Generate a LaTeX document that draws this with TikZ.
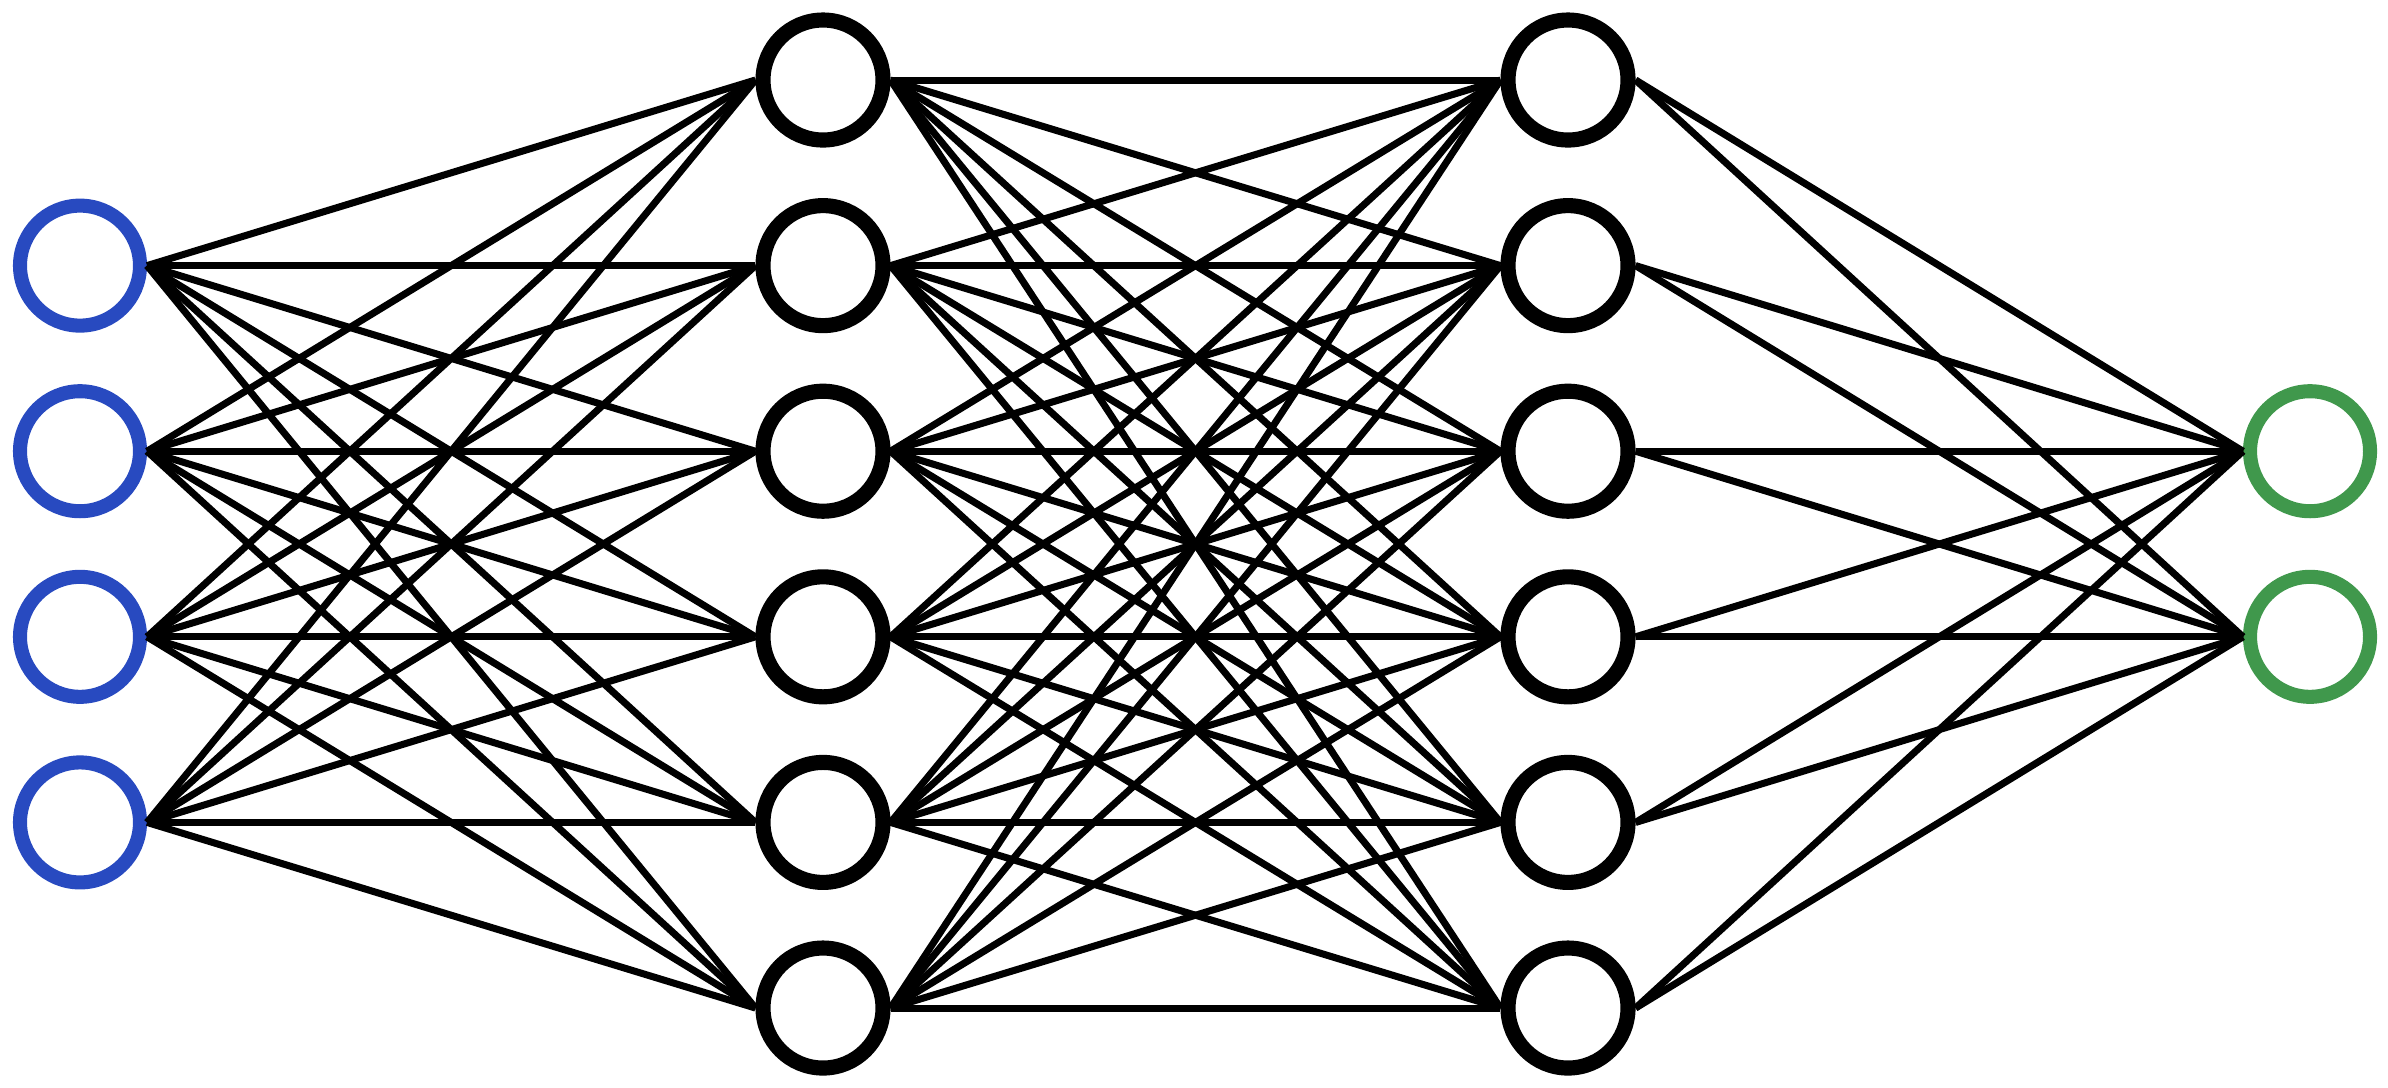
\documentclass[tikz,border=0pt]{standalone}
\usepackage{xcolor}
\usepackage{tikz}
\definecolor{inblue}{RGB}{40,74,192}
\definecolor{outgreen}{RGB}{64,152,76}

\begin{document}
\begin{tikzpicture}[line width=2pt]

  \tikzset{neuron/.style={circle, draw, fill=white, line width=4.3pt,
                          minimum size=1.2cm, inner sep=0pt},
           inp/.style={neuron, draw=inblue, line width=4pt},
           outp/.style={neuron, draw=outgreen, line width=4pt}}

  \useasboundingbox (0,0) rectangle (23.88,-10.87);

  % positions of the neurons
  \foreach \i in {1,...,4}
    \coordinate (xc\i) at ({0.80}, {-0.80-1.856*\i});
  \foreach \i in {1,...,6} {
    \coordinate (hc\i) at ({8.23}, {-0.80-1.856*(\i-1)});
    \coordinate (gc\i) at ({15.68}, {-0.80-1.856*(\i-1)});
  }
  \foreach \i in {1,2}
    \coordinate (yc\i) at ({23.10}, {-0.80-1.856*(\i+1)});

  % input layer
  \foreach \i in {1,...,4}
    \node[inp] (x\i) at (xc\i) {};

  % hidden layers
  \foreach \i in {1,...,6} {
    \node[neuron] (h\i) at (hc\i) {};
    \node[neuron] (g\i) at (gc\i) {};
  }

  % output layer
  \foreach \i in {1,2}
    \node[outp] (y\i) at (yc\i) {};

  % edges run from east point to west point
  \foreach \i in {1,...,4}
    \foreach \j in {1,...,6}
      \draw (x\i.east) -- (h\j.west);
  \foreach \i in {1,...,6}
    \foreach \j in {1,...,6}
      \draw (h\i.east) -- (g\j.west);
  \foreach \i in {1,...,6}
    \foreach \j in {1,2}
      \draw (g\i.east) -- (y\j.west);

\end{tikzpicture}
\end{document}
